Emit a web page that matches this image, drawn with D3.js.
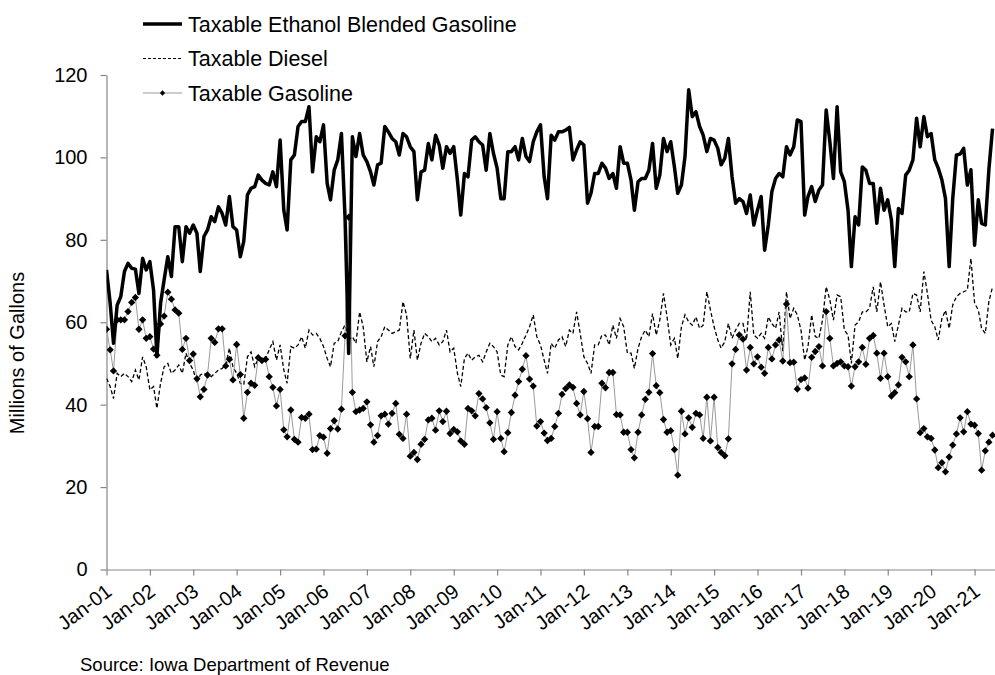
<!DOCTYPE html>
<html>
<head>
<meta charset="utf-8">
<script src="https://cdn.jsdelivr.net/npm/d3@7"></script>
<style>
  body { margin: 0; background: #fff; }
  svg { font-family: "Liberation Sans", Arial, sans-serif; }
</style>
</head>
<body>
<svg id="chart" width="995" height="675"></svg>
<script>
// Monthly volumes, millions of gallons, Jan-01 .. Jun-21
var ethanol = [
  72.7, 64.6, 54.9, 64.2, 66.2, 72.3, 74.3, 73.1, 72.9, 67, 75.5, 72.7,
  74.7, 67.8, 51.7, 64.6, 70.3, 75.9, 71.1, 83.2, 83.2, 74.7, 83.2, 81.6,
  83.6, 81.6, 72.3, 80.8, 82.4, 85.6, 84.4, 88, 86.4, 83.6, 90.5, 83.2,
  82.4, 75.9, 79.6, 90.9, 92.5, 92.9, 95.7, 94.5, 93.7, 93.3, 96.5, 92.9,
  104.2, 87.2, 82.4, 99.4, 100.6, 107.5, 108.7, 108.7, 112.3, 96.5, 105, 103.8,
  107.9, 93.7, 89.7, 96.9, 99.4, 105.8, 85.6, 52.4, 105, 100.2, 105.8, 100.6,
  99, 96.5, 93.3, 98.2, 98.6, 107.5, 106.2, 104.6, 103.8, 100.6, 105.8, 105,
  102.6, 101.4, 89.7, 96.5, 96.9, 103.4, 99.4, 105.4, 103, 97.4, 102.6, 101,
  102.6, 94.5, 86, 96.1, 95.3, 104.2, 105, 103.8, 103, 96.9, 105.8, 101,
  97.4, 90, 90, 101.4, 101.4, 102.6, 99.4, 104.6, 100.2, 99, 103.8, 106.2,
  107.9, 95.3, 90, 105.4, 104.2, 106.2, 106.2, 106.6, 107.3, 99.4, 101.8, 103.8,
  103, 88.9, 91.3, 96.1, 96.1, 98.6, 97.4, 94.9, 96.1, 92.5, 102.6, 98.6,
  98.6, 94.5, 87.2, 94.1, 94.9, 94.9, 96.9, 103.4, 92.5, 95.7, 104.6, 101.4,
  103.8, 97.7, 91.3, 93.3, 100.2, 116.4, 109.9, 111.1, 107.5, 105.4, 101.4, 104.6,
  104.2, 102.2, 98.2, 99.8, 104.6, 95.3, 88.9, 90, 89.3, 86.4, 90.9, 83.6,
  87.2, 90.5, 77.5, 83.6, 91.7, 94.9, 96.1, 95.3, 102.6, 100.6, 102.6, 109.1,
  108.7, 86, 90.5, 92.9, 89.3, 92.1, 93.3, 111.5, 103.8, 94.9, 112.3, 96.5,
  94.1, 87.2, 73.5, 85.6, 83.6, 97.7, 96.9, 93.7, 93.7, 84, 92.5, 87.2,
  89.7, 84.8, 73.5, 87.6, 86.4, 95.7, 96.9, 99.4, 109.5, 102.6, 109.9, 105,
  105.8, 99.4, 97.4, 94.5, 90, 73.5, 90, 100.6, 100.8, 102.2, 93.3, 97,
  78.7, 89.7, 84, 83.6, 97, 107
];

var diesel = [
  46.4, 44.4, 41.5, 47.6, 46.8, 47.6, 46.8, 45.6, 48.4, 46, 51.6, 49.2,
  43.6, 44.4, 39.1, 45.2, 49.2, 50, 47.6, 48.4, 49.6, 47.6, 52.5, 50,
  48.4, 45.2, 47.2, 47.6, 47.2, 46.8, 47.6, 48.4, 48.8, 49.6, 53.7, 49.2,
  47.6, 45.2, 44.8, 51.6, 52.8, 49.2, 51.2, 50.8, 51.2, 53.3, 55.3, 50.8,
  54.5, 48.4, 45.2, 54.1, 53.7, 54.5, 56.5, 53.7, 58.1, 56.9, 57.3, 56.1,
  54.1, 51.2, 49.2, 54.9, 55.3, 57.7, 59.3, 55.7, 56.5, 54.9, 62.5, 58.9,
  50.4, 54.1, 49.2, 55.3, 56.5, 58.9, 58.1, 57.3, 57.7, 58.1, 65, 61.8,
  51.2, 58.1, 50.8, 54.9, 57.3, 56.5, 55.3, 56.1, 54.5, 55.3, 58.1, 52.8,
  53.7, 47.6, 44.4, 51.2, 52.5, 50.8, 51.6, 52, 50.4, 52.8, 54.9, 54.1,
  52.8, 47.2, 46.8, 54.5, 56.5, 54.1, 53.3, 54.9, 56.9, 58.9, 61.8, 56.5,
  54.5, 50.8, 47.6, 54.9, 53.7, 55.7, 56.5, 54.1, 58.1, 57.3, 62.5, 57.3,
  51.6, 50, 47.6, 54.5, 54.5, 56.9, 56.9, 54.5, 59.3, 56.1, 60.9, 58.9,
  52.5, 52.5, 48.8, 53.7, 56.5, 58.1, 56.5, 62.1, 56.9, 60.5, 67, 61.3,
  54.5, 56.1, 51.2, 58.9, 61.8, 60.1, 59.3, 61.3, 58.5, 59.3, 67.4, 63,
  58.9, 55.7, 53.7, 55.3, 59.7, 56.1, 58.1, 59.7, 59.7, 55.7, 67.4, 56.9,
  56.1, 57.3, 56.1, 61.3, 59.7, 58.5, 62.5, 53, 67.4, 60.9, 63.4, 61.8,
  58.1, 50.8, 54.1, 61.8, 56.5, 56.1, 60.5, 68.6, 65.4, 60.5, 66.6, 66.2,
  58.1, 56.9, 50, 59.3, 60.1, 62.5, 62.5, 63.4, 68.6, 62.5, 69.8, 64.2,
  58.9, 59.7, 55.3, 59.3, 63.4, 62.5, 62.5, 67, 66.6, 62.5, 72.3, 67,
  60.5, 58.9, 55.7, 60.9, 62.9, 58.5, 64.2, 66.2, 67, 67.4, 67.8, 75.5,
  64.6, 63, 58.5, 57.3, 65, 68.6
];

var gasoline = [
  58.3, 53.3, 48.2, 60.6, 60.6, 60.6, 62.6, 64.8, 66, 58.3, 60.6, 56.1,
  56.5, 53.5, 52, 59.6, 61.5, 67.3, 65.6, 63, 62.2, 53.4, 56.1, 50.7,
  52.3, 46.3, 41.9, 43.7, 47.2, 56.1, 55.1, 58.4, 58.4, 49.4, 51, 46,
  54.6, 47.3, 36.7, 43, 45.2, 44.7, 51.4, 50.7, 51, 46.8, 44.2, 39.7,
  43.7, 33.9, 32.2, 38.7, 31.6, 30.9, 36.9, 36.7, 37.7, 29.1, 29.2, 32.5,
  32.1, 28.2, 34.2, 36.1, 34.1, 38.9, 56.7, 85.5, 43, 38.3, 38.7, 39.1,
  40.7, 35.1, 30.9, 32.5, 37.3, 37.7, 35.3, 37.9, 40.3, 32.8, 31.8, 37.7,
  27.5, 28.4, 26.7, 30.4, 31.6, 36.3, 36.7, 33.8, 38.5, 35.9, 38.4, 33,
  34, 33.4, 31.2, 30.4, 39.1, 38.5, 37.3, 42.7, 41.4, 39.3, 35.6, 31.6,
  38.3, 31.8, 28.6, 33.2, 38.1, 42.3, 45.6, 48.6, 51.9, 46.2, 44.5, 34.8,
  35.9, 33.1, 31.3, 31.8, 34.7, 37.9, 42.5, 43.9, 44.8, 44.2, 40.3, 37.5,
  43.2, 36.6, 28.4, 34.7, 34.7, 45.2, 44.1, 47.8, 47.8, 37.6, 37.5, 33.3,
  33.3, 29.1, 27.1, 33.3, 37.5, 41.3, 43, 52.4, 44.6, 42.9, 36.4, 33.3,
  33.7, 29.1, 22.9, 38.4, 32.9, 36.8, 34.5, 37.9, 37.5, 31.8, 41.8, 31.2,
  41.8, 29.6, 28.4, 27.6, 31.7, 49.9, 53.4, 56.9, 55.9, 48.4, 53.9, 49.9,
  51.6, 49.1, 47.6, 53.9, 51.1, 54.5, 55.7, 50.6, 64.4, 50.2, 50.3, 43.8,
  46.1, 46.5, 44, 51.5, 52.9, 54.1, 49.4, 62.6, 56.1, 49.4, 50, 50.4,
  49.4, 49.2, 44.5, 49.2, 50.4, 53.9, 49.8, 56.1, 56.8, 52.5, 46.4, 52.5,
  46.8, 42.1, 42.9, 44.8, 51.5, 50.4, 46.8, 54.5, 41.4, 33.2, 34.2, 32.2,
  31.8, 29, 24.7, 25.9, 23.7, 27.3, 30.2, 32.9, 36.8, 33.4, 38.3, 35.3,
  35, 33, 24.1, 28.8, 30.9, 32.6
];

var seriesNames = ["Taxable Ethanol Blended Gasoline", "Taxable Diesel", "Taxable Gasoline"];
var yTicks = [0, 20, 40, 60, 80, 100, 120];
var firstMonth = new Date(2001, 0, 1);
var lastTickYear = new Date(2021, 0, 1);

var svg = d3.select("#chart");

// plot edges in px
var plotLeft = 106.5, plotRight = 995, plotTop = 75, plotBottom = 569.5;

var months = d3.timeMonth.range(firstMonth, d3.timeMonth.offset(firstMonth, ethanol.length));

// Jan-01 .. Jan-21 spans 20 years, the chart is cut at the right edge
var x = d3.scaleTime()
    .domain([firstMonth, lastTickYear])
    .range([plotLeft, 974.6]);
x.domain([firstMonth, x.invert(plotRight)]).range([plotLeft, plotRight]);

var y = d3.scaleLinear()
    .domain([0, 120])
    .range([plotBottom, plotTop]);

svg.append("defs").append("clipPath").attr("id", "plotClip")
  .append("rect")
    .attr("x", plotLeft).attr("y", 0)
    .attr("width", plotRight - plotLeft).attr("height", plotBottom);

// Y axis
svg.append("g")
    .attr("transform", "translate(" + plotLeft + ",0)")
    .call(d3.axisLeft(y).tickValues(yTicks).tickSize(6).tickSizeOuter(0).tickPadding(13));

// X axis
var xAxis = svg.append("g")
    .attr("transform", "translate(0," + plotBottom + ")")
    .call(d3.axisBottom(x)
        .tickValues(d3.timeYear.range(firstMonth, d3.timeMonth.offset(lastTickYear, 1)))
        .tickFormat(d3.timeFormat("%b-%y"))
        .tickSize(6).tickSizeOuter(0));

xAxis.selectAll("text")
    .style("text-anchor", "end")
    .attr("x", 0)
    .attr("y", 0)
    .attr("dy", "0.35em")
    .attr("transform", "translate(2,19) rotate(-37)");

svg.selectAll(".domain, .tick line")
    .attr("stroke", "#868686")
    .attr("stroke-width", 1.2);
svg.selectAll(".tick text")
    .attr("fill", "#000")
    .style("font-size", "20px")
    .style("font-family", "'Liberation Sans', Arial, sans-serif");

// Series
var plot = svg.append("g").attr("clip-path", "url(#plotClip)");

var line = d3.line()
    .x(function (d, i) { return x(months[i]); })
    .y(function (d) { return y(d); });

plot.append("path")
    .datum(diesel)
    .attr("d", line)
    .attr("fill", "none")
    .attr("stroke", "#000")
    .attr("stroke-width", 1.3)
    .attr("stroke-dasharray", "4,2.5");

plot.append("path")
    .datum(gasoline)
    .attr("d", line)
    .attr("fill", "none")
    .attr("stroke", "#9a9a9a")
    .attr("stroke-width", 1);

var diamond = d3.symbol().type(d3.symbolDiamond2).size(34);
plot.selectAll(".mark")
    .data(gasoline)
  .enter().append("path")
    .attr("class", "mark")
    .attr("d", diamond)
    .attr("transform", function (d, i) { return "translate(" + x(months[i]) + "," + y(d) + ")"; })
    .attr("fill", "#000");

plot.append("path")
    .datum(ethanol)
    .attr("d", line)
    .attr("fill", "none")
    .attr("stroke", "#000")
    .attr("stroke-width", 3.5)
    .attr("stroke-linejoin", "round");

// Y title
svg.append("text")
    .attr("transform", "translate(24,353) rotate(-90)")
    .attr("text-anchor", "middle")
    .style("font-size", "20px")
    .text("Millions of Gallons");

// Legend
var legend = svg.append("g").attr("transform", "translate(143,0)");
var rows = [24, 58.5, 93];

legend.append("line")
    .attr("x1", 0).attr("x2", 39).attr("y1", rows[0]).attr("y2", rows[0])
    .attr("stroke", "#000").attr("stroke-width", 3.4);
legend.append("line")
    .attr("x1", 0).attr("x2", 39).attr("y1", rows[1]).attr("y2", rows[1])
    .attr("stroke", "#000").attr("stroke-width", 1.2).attr("stroke-dasharray", "3,2");
legend.append("line")
    .attr("x1", 0).attr("x2", 39).attr("y1", rows[2]).attr("y2", rows[2])
    .attr("stroke", "#9a9a9a").attr("stroke-width", 1);
legend.append("path")
    .attr("d", d3.symbol().type(d3.symbolDiamond2).size(18))
    .attr("transform", "translate(19.5," + rows[2] + ")")
    .attr("fill", "#000");

legend.selectAll(".lab")
    .data(seriesNames)
  .enter().append("text")
    .attr("class", "lab")
    .attr("x", 45)
    .attr("y", function (d, i) { return rows[i]; })
    .attr("dy", "0.35em")
    .style("font-size", "21.5px")
    .text(function (d) { return d; });

// Source note
svg.append("text")
    .attr("x", 80)
    .attr("y", 671)
    .style("font-size", "18.5px")
    .text("Source: Iowa Department of Revenue");
</script>
</body>
</html>
